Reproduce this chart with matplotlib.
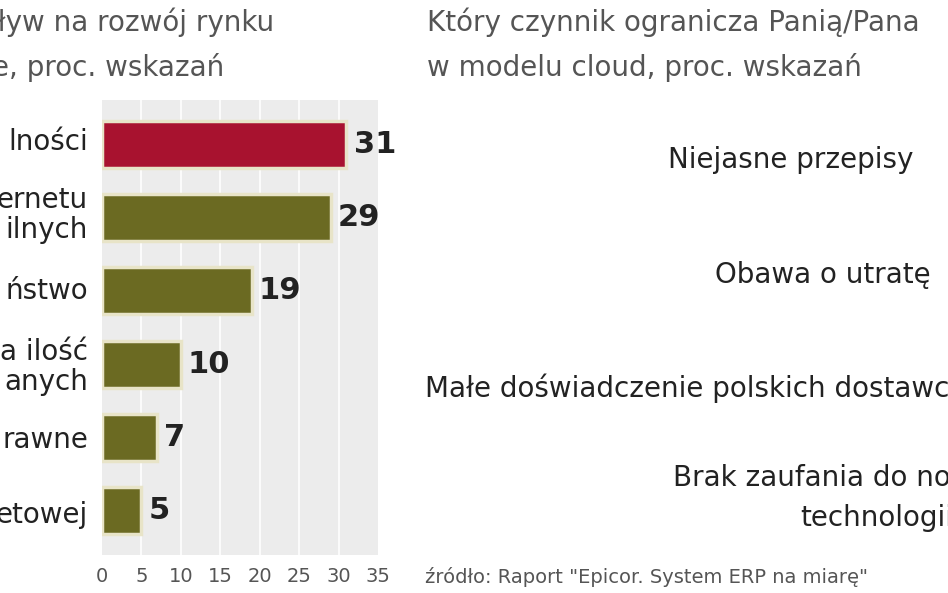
import matplotlib.pyplot as plt
from matplotlib import font_manager

# -------------------- Data --------------------
left_labels = ["lności", "ernetu\nilnych", "ństwo", "a ilość\nanych", "rawne", "etowej"]
values = [31, 29, 19, 10, 7, 5]
bar_colors = ["#a8122f", "#6b6a22", "#6b6a22", "#6b6a22", "#6b6a22", "#6b6a22"]
x_ticks = [0, 5, 10, 15, 20, 25, 30, 35]

right_items = [
    (668 / 948, 160, "Niejasne przepisy"),
    (715 / 948, 275, "Obawa o utratę"),
    (425 / 948, 388, "Małe doświadczenie polskich dostawców"),
]

names = {f.name for f in font_manager.fontManager.ttflist}
fam = "Liberation Sans Narrow" if "Liberation Sans Narrow" in names else "DejaVu Sans"
plt.rcParams["font.family"] = fam

W, H = 948, 593
fig = plt.figure(figsize=(9.48, 5.93), dpi=100)
fig.patch.set_facecolor("white")

def fy(py):
    return 1 - py / H

# -------------------- Bars --------------------
ax = fig.add_axes([102 / W, fy(555), 276 / W, (555 - 100) / H])
ax.set_facecolor("#ececec")
for t in x_ticks[1:-1]:
    ax.axvline(t, color="white", lw=1.2, zorder=1)
ypos = list(range(len(values)))
ax.barh(ypos, values, height=0.64, color=bar_colors, edgecolor="#e8e4c8",
        linewidth=2.5, zorder=2)
for y, v in zip(ypos, values):
    ax.text(v + 0.9, y, str(v), va="center", ha="left", fontsize=22,
            fontweight="bold", color="#222222", zorder=3)
ax.set_ylim(5.6, -0.6)
ax.set_xlim(0, 35)
ax.set_yticks([])
ax.set_xticks([])
for s in ax.spines.values():
    s.set_visible(False)
for t in x_ticks:
    fig.text((102 + t * 276 / 35) / W, fy(577), str(t), ha="center", va="center",
             fontsize=14, color="#555555")

# left category labels
label_y = [142, 215, 291, 367, 440, 515]
for py, lab in zip(label_y, left_labels):
    fig.text(88 / W, fy(py), lab, ha="right", va="center", fontsize=20,
             color="#222222", linespacing=1.1)

# titles
fig.text(-20 / W, fy(22), "pływ na rozwój rynku", ha="left", va="center",
         fontsize=20, color="#555555")
fig.text(-8 / W, fy(68), "e, proc. wskazań", ha="left", va="center",
         fontsize=20, color="#555555")
fig.text(427 / W, fy(22), "Który czynnik ogranicza Panią/Pana", ha="left",
         va="center", fontsize=20, color="#555555")
fig.text(427 / W, fy(68), "w modelu cloud, proc. wskazań", ha="left",
         va="center", fontsize=20, color="#555555")

# right panel texts
for x, py, txt in right_items:
    fig.text(x, fy(py), txt, ha="left", va="center", fontsize=20, color="#222222")
fig.text(673 / W, fy(478), "Brak zaufania do nowych", ha="left", va="center",
         fontsize=20, color="#222222")
fig.text(800 / W, fy(518), "technologii", ha="left", va="center",
         fontsize=20, color="#222222")

fig.text(425 / W, fy(577), "źródło: Raport \"Epicor. System ERP na miarę\"",
         ha="left", va="center", fontsize=14, color="#555555")

fig.savefig("out.png", dpi=100)
plt.close(fig)
